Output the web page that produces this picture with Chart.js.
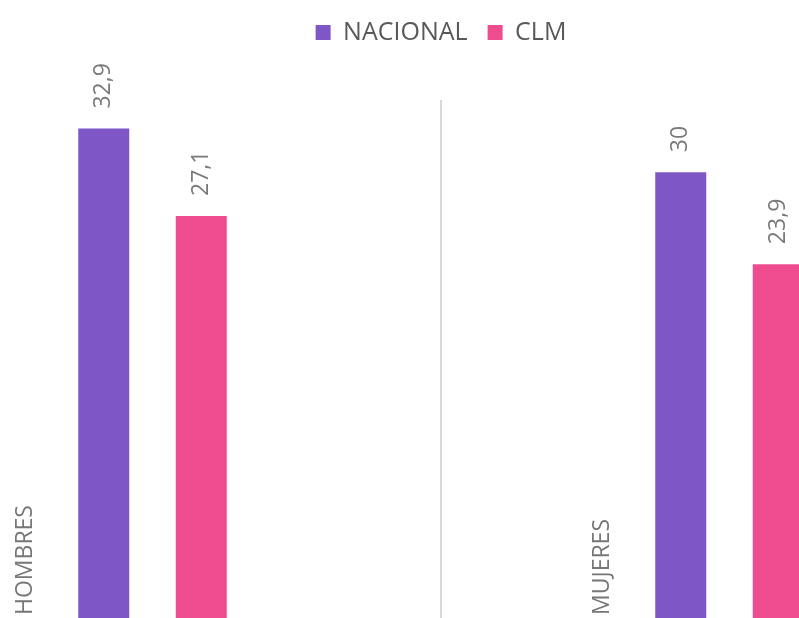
<!DOCTYPE html>
<html>
<head>
<meta charset="utf-8">
<script src="https://cdn.jsdelivr.net/npm/chart.js@4.4.3/dist/chart.umd.min.js"></script>
<style>
  html, body { margin: 0; padding: 0; background: #fff; overflow: hidden; }
  body { width: 799px; height: 618px; position: relative; }
  /* The chart is cropped on both sides, so the canvas is wider than the page */
  #wrap { position: absolute; left: -136px; top: 0; width: 1154px; height: 624px; }
</style>
</head>
<body>
<div id="wrap"><canvas id="chart"></canvas></div>
<script>

// Categories and series
const categories = ['HOMBRES', 'MUJERES']
const nacional = [32.9, 30]
const clm = [27.1, 23.9]

const seriesNames = ['NACIONAL', 'CLM']
const seriesColors = ['#7F56C5', '#EF4B8F']

// Value label as shown in the picture (decimal comma).
const fmt = val => String(val).replace('.', ',')

// Force the legend block height so the plot area starts where the reference does.
const legendHeight = {
  id: 'legendHeight',
  beforeInit(chart) {
    const fit = chart.legend.fit
    chart.legend.fit = function () {
      fit.bind(this)()
      this.height = 100
    }
  }
}

// Rotated value labels above each bar and rotated category labels.
const labels = {
  id: 'labels',
  afterDatasetsDraw(chart) {
    const ctx = chart.ctx
    const x = chart.scales.x

    ctx.save()
    ctx.font = '23px "Open Sans"'
    ctx.textAlign = 'left'
    ctx.textBaseline = 'middle'

    // Values
    ctx.fillStyle = '#7a7a7a'
    chart.data.datasets.forEach((dataset, i) => {
      chart.getDatasetMeta(i).data.forEach((bar, j) => {
        ctx.save()
        ctx.translate(bar.x, bar.y - 20)
        ctx.rotate(-Math.PI / 2)
        ctx.fillText(fmt(dataset.data[j]), 0, 0)
        ctx.restore()
      })
    })

    // Categories, bottom-left of each group
    ctx.fillStyle = '#777777'
    categories.forEach((cat, i) => {
      ctx.save()
      ctx.translate(x.getPixelForValue(i) - 127, 615)
      ctx.rotate(-Math.PI / 2)
      ctx.fillText(cat, 0, 0)
      ctx.restore()
    })

    ctx.restore()
  }
}

new Chart(document.getElementById('chart'), {
  type: 'bar',
  data: {
    labels: categories,
    datasets: [
      {
        label: seriesNames[0],
        data: nacional,
        backgroundColor: seriesColors[0],
        borderWidth: 0,
        categoryPercentage: 0.338,
        barPercentage: 0.523
      },
      {
        label: seriesNames[1],
        data: clm,
        backgroundColor: seriesColors[1],
        borderWidth: 0,
        categoryPercentage: 0.338,
        barPercentage: 0.523
      }
    ]
  },
  options: {
    responsive: true,
    maintainAspectRatio: false,
    animation: false,
    layout: { padding: 0 },
    plugins: {
      tooltip: { enabled: false },
      legend: {
        display: true,
        position: 'top',
        labels: {
          boxWidth: 15,
          boxHeight: 15,
          padding: 20,
          color: '#595959',
          font: { family: '"Open Sans"', size: 25 }
        }
      }
    },
    scales: {
      x: {
        offset: true,
        grid: {
          display: true,
          offset: true,
          drawTicks: false,
          color: '#d9d9d9',
          lineWidth: 2
        },
        border: { display: false },
        ticks: { display: false }
      },
      y: {
        display: false,
        min: 0,
        max: 34.8
      }
    }
  },
  plugins: [legendHeight, labels]
})
</script>
</body>
</html>
